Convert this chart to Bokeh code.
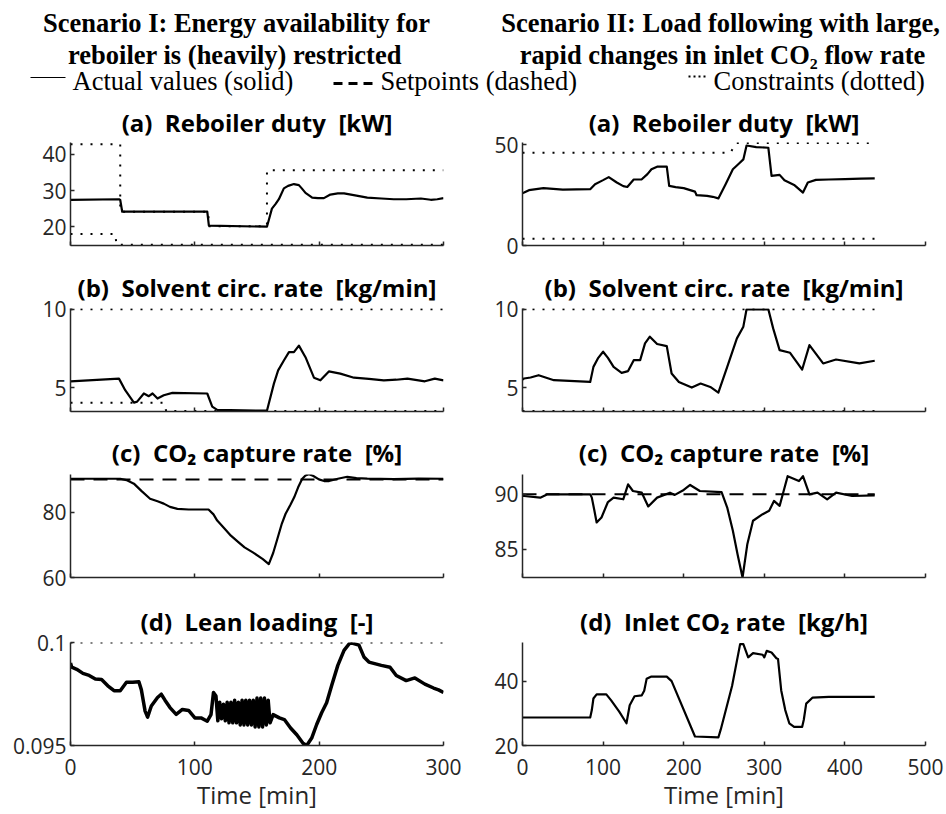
from bokeh.plotting import figure
from bokeh.layouts import column, row
from bokeh.models import Range1d, FixedTicker, CustomJSTickFormatter
from bokeh.core.properties import value
from bokeh.embed import file_html
from bokeh.resources import INLINE

# ---------------- Scenario I (left column) ----------------
s1_duty_t = [0, 39, 40, 41.6, 110, 111.3, 158, 160, 162, 165, 167.6, 171.6, 175, 179.7, 183.7, 186, 189,
             194.4, 199, 203.8, 209, 215, 220, 230, 238.7, 250, 260, 270, 281.8, 289.8, 295, 300]
s1_duty = [27.45, 27.6, 27.4, 24.15, 24.15, 20.3, 20.0, 22.5, 25.0, 26.3, 27.6, 30.6, 31.3, 31.8, 31.5, 30.6, 29.35,
           28.05, 27.9, 27.9, 28.9, 29.2, 29.2, 28.6, 28.05, 27.8, 27.6, 27.6, 27.8, 27.45, 27.6, 27.9]
s1_duty_ub_t = [0, 40, 40, 111, 111, 158, 158, 300]
s1_duty_ub = [42.8, 42.8, 24.15, 24.15, 20.15, 20.15, 35.6, 35.6]
s1_duty_lb_t = [0, 36, 37, 300]
s1_duty_lb = [18, 18, 15, 15]

s1_solv_t = [0, 39, 44, 51, 53.6, 59, 63, 66, 70, 75, 82, 110, 114, 118, 158, 163.6, 167, 171.6, 175.7,
             179.7, 183.7, 189, 195.8, 201, 207.8, 217, 228, 240, 252, 262, 271, 285, 293, 300]
s1_solv = [5.4, 5.57, 4.83, 4.03, 4.1, 4.62, 4.45, 4.62, 4.3, 4.51, 4.66, 4.62, 3.78, 3.57, 3.52, 5.25, 6.1,
           6.73, 7.26, 7.26, 7.68, 6.94, 5.63, 5.46, 6.03, 5.89, 5.63, 5.55, 5.46, 5.5, 5.57, 5.4, 5.57, 5.46]
s1_solv_ub_t = [0, 300]
s1_solv_ub = [10, 10]
s1_solv_lb_t = [0, 75, 77, 300]
s1_solv_lb = [4.03, 4.03, 3.5, 3.5]

s1_cap_t = [0, 40, 45, 51, 57, 64, 70, 75, 80, 86, 95, 105, 111, 115, 118, 124, 129, 135, 140, 147, 154.7,
            159.5, 163, 166, 170, 173, 177, 180, 183, 186.4, 189, 191.7, 195, 199.8, 204, 208, 215, 222.6,
            230, 238.7, 260, 280, 300]
s1_cap = [90.2, 90.2, 89.8, 88.7, 86.5, 84.1, 83.3, 82.6, 81.6, 81.0, 80.8, 80.8, 80.8, 79.3, 77.4, 74.9, 72.8,
          70.8, 69.2, 67.6, 65.6, 64.1, 67.5, 71.3, 76.5, 79.5, 82.3, 84.6, 87.5, 90.2, 91.2, 91.6, 91.1, 90.0,
          89.5, 89.5, 90.2, 90.8, 90.4, 90.25, 90.1, 90.25, 90.2]
s1_cap_sp_t = [0, 300]
s1_cap_sp = [90, 90]

s1_lean_t = [0, 1, 5, 10, 15, 20, 25, 30, 35, 40, 45, 50, 55, 57, 60, 62, 65, 70, 73, 76, 80, 85, 90, 95,
             100, 105, 110, 113, 115, 117,
             118.5, 120, 121.5, 123, 124.5, 126, 127.5, 129, 130.5, 132, 133.5, 135, 136.5, 138, 139.5, 141,
             142.5, 144, 145.5, 147, 148.5, 150, 151.5, 153, 154.5, 156, 157.5, 159, 160.5,
             163, 168, 172, 177, 182, 187, 190, 194, 198, 202, 206, 210, 215, 220, 225, 232, 236, 240, 250,
             257, 262, 270, 277, 285, 292, 296, 300]
s1_lean = [0.0990, 0.0988, 0.0987, 0.0985, 0.0984, 0.09823, 0.0982, 0.0979, 0.09766, 0.09766, 0.09807, 0.09807,
           0.0981, 0.0977, 0.09667, 0.09638, 0.09692, 0.09733, 0.09749, 0.0972, 0.09684, 0.09651, 0.09675,
           0.0967, 0.09634, 0.09634, 0.09618, 0.0965, 0.09757, 0.0974,
           0.0962, 0.0971, 0.0963, 0.0970, 0.0962, 0.0971, 0.0961, 0.0971, 0.0961, 0.0972, 0.0961, 0.0971,
           0.0960, 0.0972, 0.0960, 0.0972, 0.0960, 0.0972, 0.0960, 0.0972, 0.0959, 0.0973, 0.0959, 0.0973,
           0.0959, 0.0973, 0.0960, 0.0972, 0.0961,
           0.0965, 0.09634, 0.09626, 0.09585, 0.09552, 0.09511, 0.0950, 0.09536, 0.09602, 0.09659, 0.09708,
           0.0979, 0.09889, 0.09962, 0.1000, 0.09987, 0.0993, 0.09905, 0.09889, 0.0988, 0.0984, 0.09815,
           0.09828, 0.09798, 0.09779, 0.0977, 0.09757]
s1_lean_ub_t = [0, 300]
s1_lean_ub = [0.1, 0.1]

# ---------------- Scenario II (right column) ----------------
s2_duty_t = [0, 2, 8, 26, 50, 84, 90, 100, 107, 117, 125, 130, 138, 148, 155, 160, 167, 179, 182, 190, 200,
             214, 216, 229, 236, 243, 252, 261, 268, 274, 278, 290, 305, 309, 319, 325, 337, 348, 354, 364,
             380, 400, 420, 437]
s2_duty = [26.0, 26.3, 27.5, 28.5, 27.8, 28.0, 30.5, 32.5, 34.0, 31.3, 29.5, 29.1, 32.8, 32.9, 35.5, 37.9,
           39.2, 39.2, 29.6, 29.0, 28.5, 26.8, 25.0, 24.7, 24.2, 23.4, 30.5, 37.9, 40.5, 42.8, 49.7, 48.9,
           48.6, 34.6, 35.1, 32.4, 30.1, 26.3, 31.3, 32.6, 32.8, 33.0, 33.2, 33.4]
s2_duty_ub_t = [0, 258, 265, 437]
s2_duty_ub = [46.1, 46.1, 51, 51]
s2_duty_lb_t = [0, 437]
s2_duty_lb = [3.3, 3.3]

s2_solv_t = [0, 2, 10, 20, 39, 84, 88, 94, 100, 106, 113, 123, 131, 138, 146, 152, 158, 167, 179, 185, 194,
             210, 221, 233, 243, 254, 266, 274, 278, 305, 311, 319, 332, 347, 356, 373, 389, 418, 437]
s2_solv = [5.5, 5.58, 5.64, 5.79, 5.47, 5.36, 6.32, 6.9, 7.29, 6.9, 6.32, 5.94, 6.05, 6.75, 6.75, 7.82, 8.25,
           7.78, 7.65, 5.9, 5.36, 5.0, 5.26, 5.04, 4.68, 6.32, 8.14, 8.89, 10.0, 10.0, 8.78, 7.39, 7.22, 6.15,
           7.71, 6.54, 6.79, 6.54, 6.71]
s2_solv_ub_t = [0, 437]
s2_solv_ub = [10, 10]
s2_solv_lb_t = [0, 437]
s2_solv_lb = [3.5, 3.5]

s2_cap_t = [0, 2, 22, 31, 84, 86, 89, 92, 98, 106, 113, 125, 131, 137, 148, 156, 167, 183, 189, 200, 208,
            220, 247, 254, 261, 267, 273, 279, 286, 298, 306, 312, 319, 324, 329, 343, 348, 356, 366, 378,
            389, 409, 437]
s2_cap = [89.85, 89.85, 89.7, 90.0, 90.0, 89.7, 88.6, 87.45, 87.9, 89.3, 89.7, 89.55, 90.9, 90.3, 90.15,
          88.9, 89.7, 90.15, 89.95, 90.4, 90.85, 90.3, 90.2, 88.8, 86.7, 84.5, 82.45, 85.5, 87.6, 88.2, 88.5,
          89.4, 88.95, 90.3, 91.65, 91.2, 91.65, 90.0, 90.15, 89.55, 90.15, 89.85, 89.9]
s2_cap_sp_t = [0, 437]
s2_cap_sp = [90, 90]

s2_inlet_t = [0, 84, 86, 88, 92, 104, 110, 120, 129, 133, 139, 148, 151, 154, 160, 179, 185, 214, 243, 246,
              260, 270, 274, 280, 286, 298, 300, 303, 309, 315, 317, 321, 326, 331, 337, 347, 349, 352, 360,
              380, 437]
s2_inlet = [28.7, 28.7, 31, 34.6, 35.9, 35.9, 34, 30.5, 26.9, 32.5, 35.3, 35.6, 37, 40.7, 41.4, 41.4, 40,
            22.8, 22.5, 25, 38.5, 51.5, 51.5, 47.4, 48.7, 48.2, 47.4, 49.4, 48.9, 47.1, 46.9, 37.1, 31, 26.9,
            25.8, 25.8, 28, 33, 34.9, 35.1, 35.1]

# ---------------- axes / titles ----------------
left_xticks = [0, 100, 200, 300]
right_xticks = [0, 100, 200, 300, 400, 500]
NB = "\u00a0"
titles = {
    "a1": f"(a){NB} Reboiler duty{NB} [kW]",
    "b": f"(b){NB} Solvent circ. rate{NB} [kg/min]",
    "c": f"(c){NB} CO\u2082 capture rate{NB} [%]",
    "d1": f"(d){NB} Lean loading{NB} [-]",
    "d2": f"(d){NB} Inlet CO\u2082 rate{NB} [kg/h]",
}
header_left = ["Scenario I: Energy availability for", "reboiler is (heavily) restricted"]
header_right = ["Scenario II: Load following with large,", "rapid changes in inlet CO\u2082 flow rate"]
legend_labels = ["Actual values (solid)", "Setpoints (dashed)", "Constraints (dotted)"]

AX = "#262626"
FONT = "Open Sans"

DASH = {"solid": "solid", "dashed": "14 9", "dotted": "2 8"}


def panel(title, side, height, mbt, mbb, xticks, ylim, yticks, series, bottom=False, lw=2.2, tstand=10):
    if side == "L":
        width, mbl, mbr, xmax = 470, 70, 27, 300
    else:
        width, mbl, mbr, xmax = 475, 52, 20, 500
    p = figure(width=width, height=height, x_range=Range1d(0, xmax), y_range=Range1d(*ylim),
               min_border_left=mbl, min_border_right=mbr, min_border_top=mbt, min_border_bottom=mbb,
               toolbar_location=None, output_backend="svg", title=title)
    p.grid.visible = False
    p.outline_line_color = None
    p.background_fill_color = "white"
    p.border_fill_color = "white"
    p.title.align = "center"
    p.title.text_font = FONT
    p.title.text_font_style = "bold"
    p.title.text_font_size = "24px"
    p.title.text_color = "black"
    p.title.standoff = tstand
    for ax in (p.xaxis[0], p.yaxis[0]):
        ax.axis_line_color = AX
        ax.axis_line_width = 1.5
        ax.major_tick_line_color = AX
        ax.major_tick_line_width = 1.5
        ax.major_tick_in = 4
        ax.major_tick_out = 0
        ax.minor_tick_line_color = None
        ax.major_label_text_font = FONT
        ax.major_label_text_font_size = "21px"
        ax.major_label_text_color = AX
    p.xaxis.ticker = FixedTicker(ticks=xticks)
    p.yaxis.ticker = FixedTicker(ticks=yticks)
    p.yaxis.formatter = CustomJSTickFormatter(code="return String(parseFloat(tick.toFixed(6)));")
    p.yaxis.major_label_standoff = 4
    if bottom:
        p.xaxis.major_label_standoff = 13
        p.xaxis.axis_label = "Time [min]"
        p.xaxis.axis_label_text_font = FONT
        p.xaxis.axis_label_text_font_size = "24px"
        p.xaxis.axis_label_text_font_style = "normal"
        p.xaxis.axis_label_text_color = AX
        p.xaxis.axis_label_standoff = 0
    else:
        p.xaxis.formatter = CustomJSTickFormatter(code="return '';")
        p.xaxis.major_label_text_font_size = "0px"
        p.xaxis.major_label_standoff = 0
    for (xs, ys, kind) in series:
        if kind == "solid":
            p.line(xs, ys, line_color="black", line_width=lw, line_join="round")
        elif kind == "dashed":
            p.line(xs, ys, line_color="black", line_width=2, line_dash=DASH["dashed"])
        else:
            p.line(xs, ys, line_color="black", line_width=2, line_dash=DASH["dotted"])
    return p


# rows: header 96, a 166, b 163, c 167, d 221  -> 813
a1 = panel(titles["a1"], "L", 166, 44, 17, left_xticks, (14.8, 43.3), [20, 30, 40],
           [(s1_duty_ub_t, s1_duty_ub, "dotted"), (s1_duty_lb_t, s1_duty_lb, "dotted"),
            (s1_duty_t, s1_duty, "solid")], tstand=7)
a2 = panel(titles["a1"], "R", 166, 46, 17, right_xticks, (0, 51.2), [0, 50],
           [(s2_duty_ub_t, s2_duty_ub, "dotted"), (s2_duty_lb_t, s2_duty_lb, "dotted"),
            (s2_duty_t, s2_duty, "solid")], tstand=7)
b1 = panel(titles["b"], "L", 163, 46, 14, left_xticks, (3.47, 10.05), [5, 10],
           [(s1_solv_ub_t, s1_solv_ub, "dotted"), (s1_solv_lb_t, s1_solv_lb, "dotted"),
            (s1_solv_t, s1_solv, "solid")])
b2 = panel(titles["b"], "R", 163, 46, 14, right_xticks, (3.47, 10.05), [5, 10],
           [(s2_solv_ub_t, s2_solv_ub, "dotted"), (s2_solv_lb_t, s2_solv_lb, "dotted"),
            (s2_solv_t, s2_solv, "solid")])
c1 = panel(titles["c"], "L", 167, 49, 15, left_xticks, (60, 91.5), [60, 80],
           [(s1_cap_sp_t, s1_cap_sp, "dashed"), (s1_cap_t, s1_cap, "solid")], tstand=12)
c2 = panel(titles["c"], "R", 167, 49, 15, right_xticks, (82.45, 91.8), [85, 90],
           [(s2_cap_sp_t, s2_cap_sp, "dashed"), (s2_cap_t, s2_cap, "solid")], tstand=12)
d1 = panel(titles["d1"], "L", 221, 50, 68, left_xticks, (0.095, 0.1), [0.095, 0.1],
           [(s1_lean_ub_t, s1_lean_ub, "dotted"), (s1_lean_t, s1_lean, "solid")], bottom=True, lw=3.5)
d2 = panel(titles["d2"], "R", 221, 50, 68, right_xticks, (20, 52), [20, 40],
           [(s2_inlet_t, s2_inlet, "solid")], bottom=True)

# header with scenario titles and legend
hdr = figure(width=945, height=96, x_range=Range1d(0, 945), y_range=Range1d(96, 0),
             x_axis_type=None, y_axis_type=None, min_border=0, toolbar_location=None,
             output_backend="svg", title=None)
hdr.outline_line_color = None
hdr.grid.visible = False
SERIF = value("Liberation Serif")
hdr.text(x=[236, 234.5], y=[22, 54], text=header_left, text_font=SERIF, text_font_style="bold",
         text_font_size="26.5px", text_align="center", text_baseline="alphabetic", text_color="black")
hdr.text(x=[720, 722], y=[22, 54], text=header_right, text_font=SERIF, text_font_style="bold",
         text_font_size="26.5px", text_align="center", text_baseline="alphabetic", text_color="black")
hdr.line([30, 65], [77, 77], line_color="black", line_width=1)
hdr.line([333, 377], [83, 83], line_color="black", line_width=3, line_dash="9 6")
hdr.line([688, 708], [76, 76], line_color="black", line_width=2, line_dash="2 3")
hdr.text(x=[72, 380, 713], y=[80, 80, 80], text=legend_labels, text_font=SERIF,
         text_font_size="26.5px", text_align="left", text_baseline="alphabetic", text_color="black")

layout = column(hdr, row(a1, a2), row(b1, b2), row(c1, c2), row(d1, d2))
open("out.html", "w").write(file_html(layout, INLINE))
